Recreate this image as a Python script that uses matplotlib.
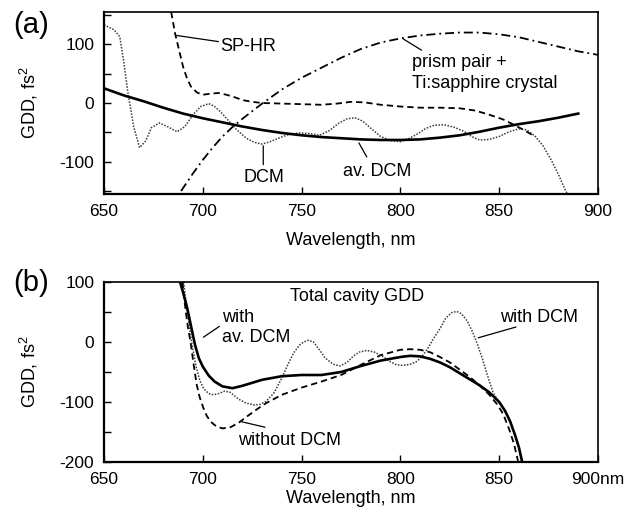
import matplotlib
matplotlib.use("Agg")
import matplotlib.pyplot as plt
from matplotlib.ticker import MultipleLocator

plt.rcParams['font.family'] = ['Liberation Sans', 'DejaVu Sans']
plt.rcParams['mathtext.fontset'] = 'custom'
plt.rcParams['mathtext.rm'] = 'Liberation Sans'
plt.rcParams['mathtext.it'] = 'Liberation Sans:italic'
plt.rcParams['axes.unicode_minus'] = False

# ---------------- panel (a) data ----------------
wl_dcm_a = [650, 655, 658, 660, 662, 665, 668, 671, 674, 678, 682, 687, 691, 695, 699,
            703, 706, 709, 713, 717, 722, 726, 730, 734, 739, 744, 749, 754, 759, 764,
            769, 773, 777, 781, 785, 790, 795, 800, 804, 808, 813, 817, 822, 827, 832,
            836, 840, 845, 850, 855, 860, 864, 868, 872, 876, 880, 883, 886]
gdd_dcm_a = [133, 125, 113, 70, 20, -40, -76, -65, -42, -34, -40, -49, -40, -20, -6,
             -1, -6, -15, -30, -45, -60, -67, -70, -66, -59, -53, -51, -52, -55, -47,
             -34, -27, -25, -31, -43, -57, -64, -66, -61, -54, -43, -38, -37, -41, -48,
             -57, -63, -62, -57, -49, -44, -46, -56, -72, -95, -122, -145, -165]

wl_avdcm_a = [650, 660, 670, 680, 690, 700, 710, 720, 730, 740, 750, 760, 770,
              780, 790, 800, 810, 820, 830, 840, 850, 860, 870, 880, 890]
gdd_avdcm_a = [25, 13, 3, -8, -18, -26, -33, -40, -46, -51, -55, -58, -60,
               -62, -63, -63, -62, -59, -55, -49, -42, -36, -31, -25, -18]

wl_sphr = [684, 686, 688, 690, 692, 694, 697, 700, 704, 708, 712, 716, 720, 725,
           730, 740, 750, 760, 768, 775, 782, 790, 800, 810, 820, 830, 838, 845,
           852, 858, 863, 868]
gdd_sphr = [155, 118, 90, 62, 42, 28, 18, 14, 16, 17, 14, 10, 5, 2,
            0, -1, -2, -3, -1, 2, 1, -3, -6, -8, -8, -9, -13, -20,
            -28, -38, -47, -57]

wl_prism = [689, 695, 700, 705, 710, 715, 720, 730, 740, 750, 760, 770, 780,
            790, 800, 810, 820, 830, 840, 850, 860, 870, 880, 890, 900]
gdd_prism = [-150, -120, -97, -76, -57, -41, -27, -1, 23, 43, 60, 77, 92,
             103, 110, 115, 118, 120, 120, 117, 112, 104, 96, 88, 82]

# ---------------- panel (b) data ----------------
wl_avdcm_b = [688.5, 690, 692, 694, 696, 698, 700, 703, 706, 710, 715, 720, 725, 730,
              740, 750, 760, 770, 780, 790, 800, 805, 810, 815, 820, 825, 830, 835,
              840, 845, 850, 853, 855.5, 858, 860, 861.5, 862.5]
gdd_avdcm_b = [100, 83, 58, 27, -4, -27, -41, -56, -66, -74, -77, -73, -68, -63,
               -57, -55, -55, -50, -40, -31, -25, -23, -24, -28, -34, -42, -52, -62,
               -72, -84, -100, -115, -132, -155, -176, -198, -212]

wl_nodcm_b = [689.8, 690.5, 691.4, 692.5, 693.8, 695.3, 696.9, 698.5, 700.3, 702, 704,
              707, 710, 714, 718, 722, 727, 732, 740, 750, 760, 770, 780, 790, 800,
              805, 810, 815, 820, 825, 830, 835, 840, 845, 849, 852, 855, 857.5, 860]
gdd_nodcm_b = [100, 76, 50, 24, 0, -36, -71, -93, -110, -123, -133,
               -141, -144, -142, -135, -125, -113, -102, -88, -76, -66, -55, -38, -22, -13,
               -12, -13, -17, -25, -34, -46, -58, -72, -88, -104, -120, -145, -170, -205]

wl_dcm_b = [690.3, 691.2, 692.2, 693.2, 694.3, 695.2, 696.5, 698.6, 700.5, 703, 705.5,
            708, 711, 714, 718, 722, 726, 729, 732, 736, 740, 743, 746, 749, 751,
            753.5, 756, 759, 762, 766, 769.5, 773, 776, 779, 783, 787, 791, 795, 798,
            801.5, 805, 808, 811, 814, 817, 820, 823, 826, 828.5, 831, 834, 836.5,
            839, 841.5, 844, 847, 850, 853, 855.5, 858, 860, 861.5]
gdd_dcm_b = [100, 75, 50, 25, 0, -16, -40, -65, -78, -86, -88,
             -86, -82, -84, -95, -102, -105, -104, -99, -85, -60, -38, -18, -5, 0,
             3, 0, -13, -27, -37, -40, -34, -24, -17, -14, -17, -24, -33, -38,
             -39, -37, -33, -24, -10, 7, 22, 40, 49, 51, 47, 34, 17,
             -4, -28, -55, -85, -100, -115, -132, -155, -176, -200]

xticks_a = [650, 700, 750, 800, 850, 900]
xticklabels_a = ['650', '700', '750', '800', '850', '900']
xticklabels_b = ['650', '700', '750', '800', '850', '900nm']

# ---------------- figure ----------------
W, H = 631, 520
fig = plt.figure(figsize=(W / 100, H / 100), dpi=100)

def px_axes(left, top, right, bottom):
    return fig.add_axes([left / W, 1 - bottom / H, (right - left) / W, (bottom - top) / H])

ax1 = px_axes(104, 12, 598, 194)
ax2 = px_axes(104, 282, 598, 462)

FS = 13
TFS = 12.5
dotted = dict(color='#3a3a3a', lw=1.1, linestyle=(0, (1, 1)))
solid = dict(color='black', lw=1.9, linestyle='-')
dashed = dict(color='black', lw=1.3, linestyle=(0, (3.5, 2.2)))
dashdot = dict(color='black', lw=1.3, linestyle=(0, (5, 2.2, 1, 2.2)))

ax1.plot(wl_prism, gdd_prism, **dashdot)
ax1.plot(wl_sphr, gdd_sphr, **dashed)
ax1.plot(wl_dcm_a, gdd_dcm_a, **dotted)
ax1.plot(wl_avdcm_a, gdd_avdcm_a, **solid)

ax2.plot(wl_nodcm_b, gdd_nodcm_b, **dashed)
ax2.plot(wl_dcm_b, gdd_dcm_b, **dotted)
ax2.plot(wl_avdcm_b, gdd_avdcm_b, **solid)

for ax in (ax1, ax2):
    ax.set_xlim(650, 900)
    ax.set_xticks(xticks_a)
    ax.yaxis.set_minor_locator(MultipleLocator(50))
    ax.tick_params(which='both', direction='in', length=5, width=1.0,
                   top=False, right=False, labelsize=TFS, pad=7)
    for side in ('left', 'bottom'):
        ax.spines[side].set_linewidth(1.6)
    for side in ('top', 'right'):
        ax.spines[side].set_linewidth(1.2)

ax1.set_ylim(-155, 155)
ax1.set_yticks([-100, 0, 100])
ax1.set_xticklabels(xticklabels_a)
ax2.set_ylim(-200, 100)
ax2.set_yticks([-200, -100, 0, 100])
ax2.set_xticklabels(xticklabels_b)

for ax in (ax1, ax2):
    ax.set_ylabel('GDD, fs$^{2}$', fontsize=FS)
    ax.yaxis.set_label_coords(-0.13, 0.5)
    ax.set_xlabel('Wavelength, nm', fontsize=FS)
ax1.xaxis.set_label_coords(0.5, -0.21)
ax2.xaxis.set_label_coords(0.5, -0.155)

line_kw = dict(arrowstyle='-', color='black', lw=0.9, shrinkA=0, shrinkB=0)

# panel (a) annotations
ax1.annotate('', xy=(686.8, 115), xytext=(707.9, 104.6), arrowprops=line_kw)
ax1.text(708.7, 97, 'SP-HR', fontsize=FS, ha='left', va='center')
ax1.annotate('', xy=(730.6, -73), xytext=(730.6, -105), arrowprops=line_kw)
ax1.text(731, -127, 'DCM', fontsize=FS, ha='center', va='center')
ax1.annotate('', xy=(779, -68), xytext=(783, -92), arrowprops=line_kw)
ax1.text(788, -117, 'av. DCM', fontsize=FS, ha='center', va='center')
ax1.annotate('', xy=(801.5, 109), xytext=(810.7, 90), arrowprops=line_kw)
ax1.text(805.7, 51, 'prism pair +\nTi:sapphire crystal', fontsize=FS,
         ha='left', va='center', linespacing=1.3)

# panel (b) annotations
ax2.text(778, 76, 'Total cavity GDD', fontsize=FS, ha='center', va='center')
ax2.annotate('', xy=(700.3, 8), xytext=(708.4, 26), arrowprops=line_kw)
ax2.text(709.5, 24, 'with\nav. DCM', fontsize=FS, ha='left', va='center', linespacing=1.2)
ax2.annotate('', xy=(719.7, -133), xytext=(731.5, -142), arrowprops=line_kw)
ax2.text(718, -164, 'without DCM', fontsize=FS, ha='left', va='center')
ax2.annotate('', xy=(839.4, 7), xytext=(858.5, 25), arrowprops=line_kw)
ax2.text(850.4, 41, 'with DCM', fontsize=FS, ha='left', va='center')

fig.text(13 / W, 1 - 25 / H, '(a)', fontsize=21, ha='left', va='center')
fig.text(13 / W, 1 - 283 / H, '(b)', fontsize=21, ha='left', va='center')

fig.savefig('out.png', dpi=100)
